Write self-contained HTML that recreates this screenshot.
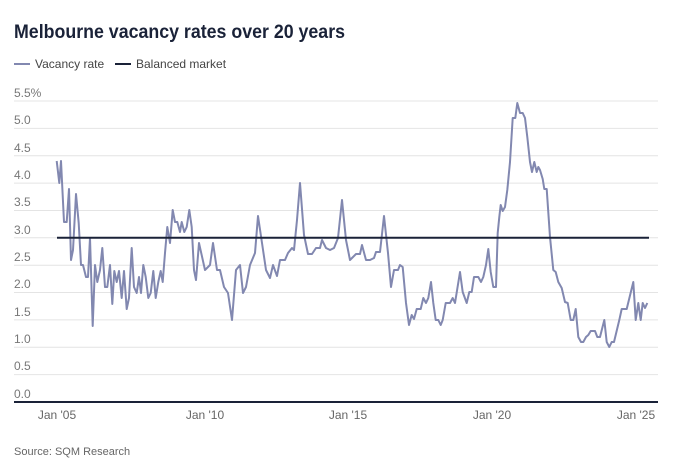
<!DOCTYPE html>
<html><head><style>
body{margin:0;background:#fff;width:679px;height:469px;overflow:hidden;font-family:"Liberation Sans",sans-serif}
</style></head><body>
<svg width="679" height="469" xmlns="http://www.w3.org/2000/svg" font-family="Liberation Sans, sans-serif">
<text x="14" y="38" font-size="19" font-weight="bold" fill="#1a2238" textLength="331" lengthAdjust="spacingAndGlyphs">Melbourne vacancy rates over 20 years</text>
<line x1="14" y1="64" x2="30" y2="64" stroke="#8288b0" stroke-width="2"/>
<text x="35" y="68" font-size="12" fill="#444">Vacancy rate</text>
<line x1="115" y1="64" x2="131" y2="64" stroke="#1a2238" stroke-width="2"/>
<text x="136" y="68" font-size="12" fill="#444">Balanced market</text>
<g stroke="#e4e4e4" stroke-width="1">
<line x1="14" x2="658" y1="101" y2="101"/><line x1="14" x2="658" y1="128.4" y2="128.4"/><line x1="14" x2="658" y1="155.7" y2="155.7"/><line x1="14" x2="658" y1="183.1" y2="183.1"/><line x1="14" x2="658" y1="210.5" y2="210.5"/><line x1="14" x2="658" y1="237.8" y2="237.8"/><line x1="14" x2="658" y1="265.2" y2="265.2"/><line x1="14" x2="658" y1="292.5" y2="292.5"/><line x1="14" x2="658" y1="319.9" y2="319.9"/><line x1="14" x2="658" y1="347.3" y2="347.3"/><line x1="14" x2="658" y1="374.6" y2="374.6"/>
</g>
<g font-size="12" fill="#777">
<text x="14" y="97">5.5%</text><text x="14" y="124">5.0</text><text x="14" y="152">4.5</text><text x="14" y="179">4.0</text><text x="14" y="206">3.5</text><text x="14" y="234">3.0</text><text x="14" y="261">2.5</text><text x="14" y="288">2.0</text><text x="14" y="316">1.5</text><text x="14" y="343">1.0</text><text x="14" y="370">0.5</text><text x="14" y="398">0.0</text>
</g>
<line x1="14" x2="658" y1="402" y2="402" stroke="#1a2238" stroke-width="2"/>
<g font-size="12" fill="#666" text-anchor="middle">
<text x="57" y="419">Jan '05</text><text x="205" y="419">Jan '10</text><text x="348" y="419">Jan '15</text><text x="492" y="419">Jan '20</text><text x="636" y="419">Jan '25</text>
</g>
<text x="14" y="455" font-size="11" fill="#666">Source: SQM Research</text>
<polyline fill="none" stroke="#8288b0" stroke-width="2" stroke-linejoin="round" points="56.7,161 59.3,183 61,161 64,222 66.7,222 69,189 71,260 73,250 76,194 78.7,223 81,265 83,265 86,277 88,277 90,238 92.7,326 95,265 97.3,282 100,270 102.3,248 105,287 107.3,287 110,265 112.3,304 114.3,271 116.7,282 119,271 121.7,298 124,271 126.7,309 129,298 131.7,248 134,287 136.7,293 139,277 141,293 143.3,265 145.7,277 148.3,298 150.7,293 153.3,271 155.7,298 158.3,282 160.7,271 162.7,282 165,253 167.3,227 170,243 172.7,210 175,222 177.3,222 180,232 181.7,222 184.3,232 186.7,227 189.3,210 191.7,227 194,270 196,280 199,243 205,270 210,265 213,243 217,270 220,270 224,287 228,293 232,320 236,270 240,265 243,293 246,287 250,265 255,253 258,216 262,243 266,270 270,278 273,265 277,276 280,260 285,260 288,253 292,248 294,250 297,220 300,183 304,235 308,254 312,254 316,248 320,248 322,240 326,248 330,250 334,248 338,238 342,200 346,240 350,260 352,258 356,254 360,254 362,245 366,260 370,260 374,258 376,252 380,252 384,216 388,253 391,287 394,270 398,270 400,265 402.7,267 406,303 409,325 411.7,315 414,319 416.7,309 420.7,309 423.3,298 426,303 428.3,298 431,282 433.3,303 435.7,320 438.3,320 440.7,325 442.7,320 445.7,303 450,303 452.7,298 455,303 460,272 462.7,292 466.7,303 469.3,292 471.7,292 474,277 478.3,277 481,282 483.3,277 486,265 488.3,249 490.7,272 493.3,287 496,287 497.7,233 499.3,217 500.7,205 502.7,211 505,207 507.3,190 510,162 512.7,118 515.3,118 517.3,103 520,113 522.7,113 525,118 527.3,137 530,162 532,172 534.3,162 536.7,172 538.3,167 540,170 542.7,179 544.3,189 546.7,189 550,237 553.3,270 555.7,272 558.3,282 561.7,288 565,302 567.7,303 570.7,320 573.3,320 575.7,309 578.3,337 581,342 583.3,342 586,337 588.3,335 590.7,331 595,331 597.3,337 600,337 604.3,320 606.7,342 609.3,347 611.7,342 614,342 619.3,320 621.7,309 626.7,309 633.3,282 635.7,320 638.3,303 640.7,320 642.7,303 645,308 647.3,303"/>
<line x1="57" x2="649" y1="237.8" y2="237.8" stroke="#1a2238" stroke-width="2"/>
</svg>
</body></html>
